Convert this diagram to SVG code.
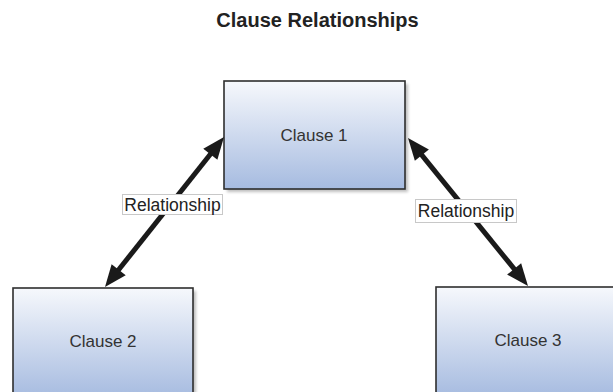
<svg xmlns="http://www.w3.org/2000/svg" width="613" height="392" viewBox="0 0 613 392">
<style>
.box{fill:url(#grad);stroke:#2e2e2e;stroke-width:1.6}
.shadow{fill:#8a8a8a;opacity:0.55;filter:url(#blur)}
.ntext{font-family:"Liberation Sans",Arial,sans-serif;font-size:17px;fill:#333;text-anchor:middle}
.title{font-family:"Liberation Sans",Arial,sans-serif;font-size:20px;font-weight:bold;fill:#222;text-anchor:middle}
.conn{stroke:#1a1a1a;stroke-width:5;fill:none;marker-start:url(#head);marker-end:url(#head)}
.lbox{fill:#fff;stroke:#c8c8c8;stroke-width:1}
.ltext{font-family:"Liberation Sans",Arial,sans-serif;font-size:17.5px;fill:#222;text-anchor:middle}
</style>
<defs>
<linearGradient id="grad" x1="0" y1="0" x2="0" y2="1">
<stop offset="0" stop-color="#f6f8fc"/>
<stop offset="1" stop-color="#a6bbe0"/>
</linearGradient>
<filter id="blur" x="-10%" y="-10%" width="120%" height="120%">
<feGaussianBlur stdDeviation="1.5"/>
</filter>
<marker id="head" markerUnits="userSpaceOnUse" markerWidth="24" markerHeight="20" refX="1" refY="9" orient="auto-start-reverse" overflow="visible">
<path d="M0,0 L22,9 L0,18 z" fill="#1a1a1a"/>
</marker>
</defs>
<text class="title" x="317.5" y="27">Clause Relationships</text>
<g id="clause1">
<rect class="shadow" x="227" y="84" width="181" height="108"/>
<rect class="box" x="224" y="81" width="181" height="108"/>
<text class="ntext" x="314" y="141">Clause 1</text>
</g>
<g id="clause2">
<rect class="shadow" x="16" y="291" width="180" height="110"/>
<rect class="box" x="13" y="288" width="180" height="110"/>
<text class="ntext" x="103" y="347">Clause 2</text>
</g>
<g id="clause3">
<rect class="shadow" x="439" y="290" width="184" height="110"/>
<rect class="box" x="436" y="287" width="184" height="110"/>
<text class="ntext" x="528" y="346">Clause 3</text>
</g>
<g id="connectors">
<line class="conn" x1="210.95" y1="153.45" x2="118.05" y2="270.55"/>
<line class="conn" x1="421.23" y1="154.31" x2="514.77" y2="269.69"/>
<g id="label1">
<rect class="lbox" x="122.5" y="194.5" width="100" height="20"/>
<text class="ltext" x="172.5" y="210.5">Relationship</text>
</g>
<g id="label2">
<rect class="lbox" x="415.5" y="199.5" width="101" height="23"/>
<text class="ltext" x="466" y="216.5">Relationship</text>
</g>
</g>
</svg>
